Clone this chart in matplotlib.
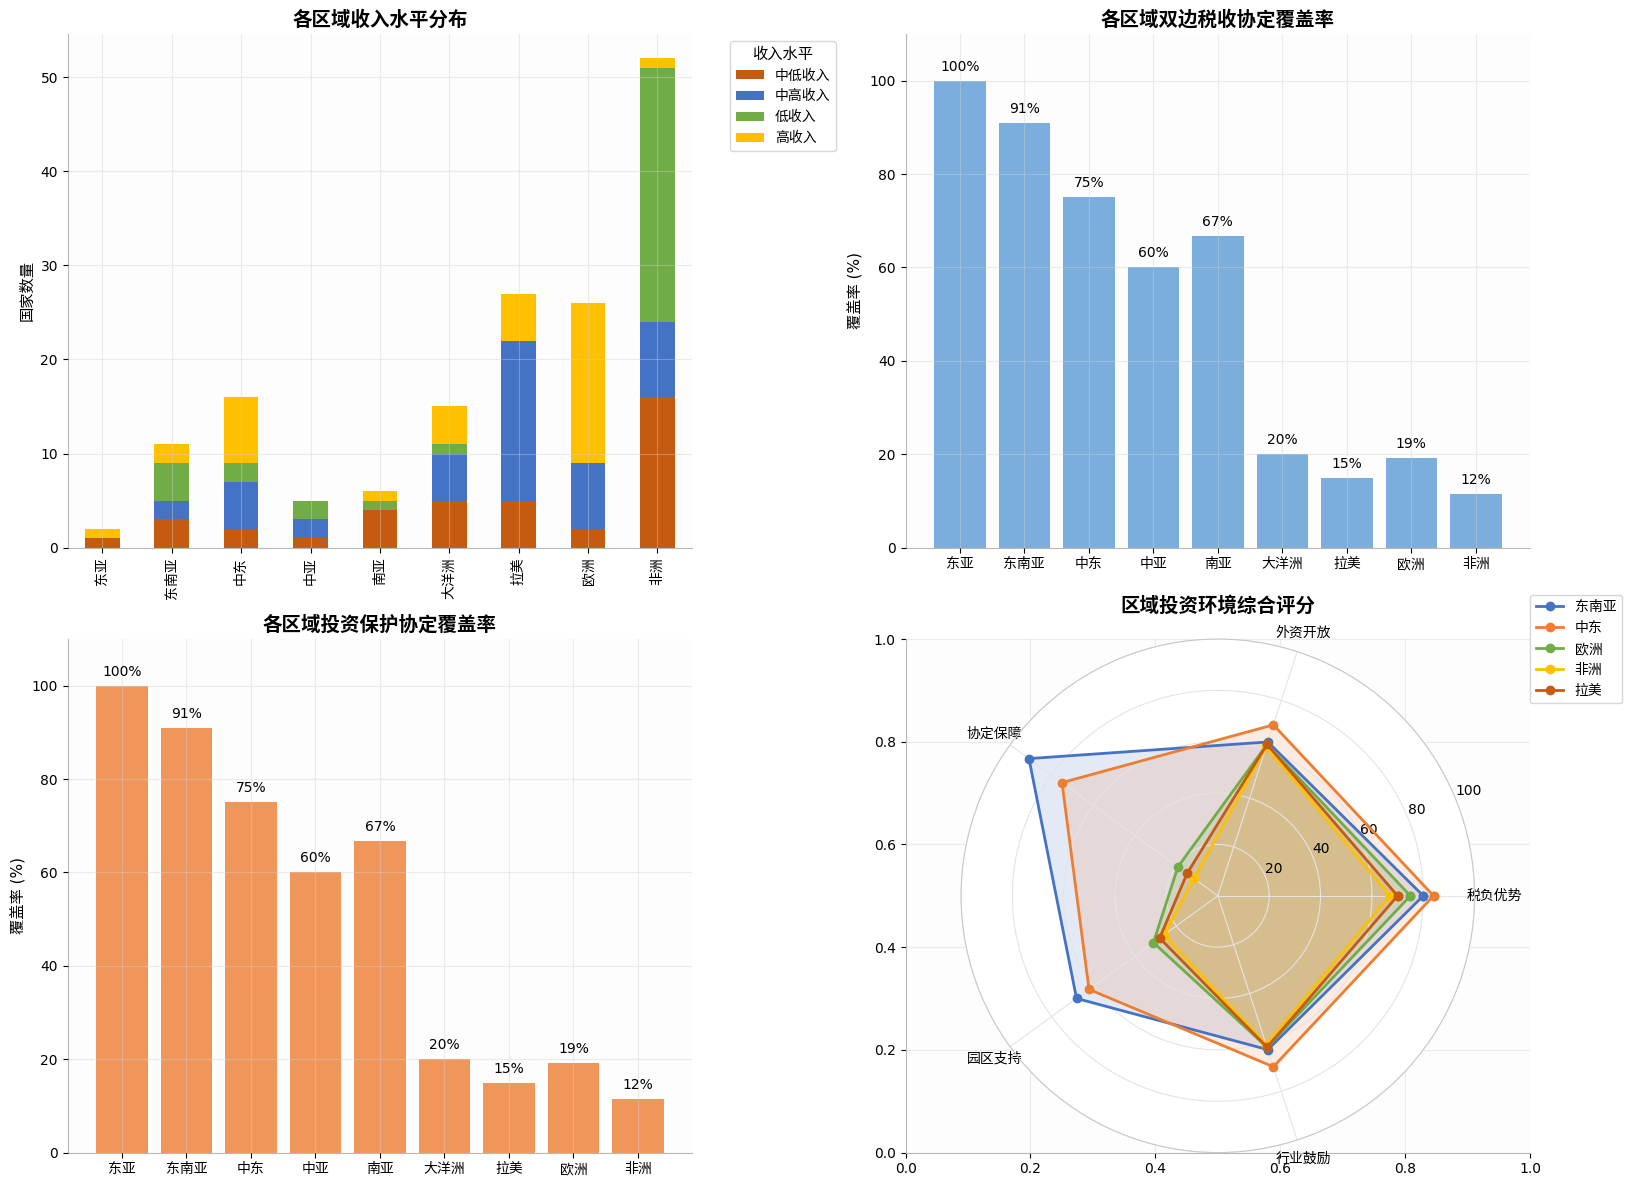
import numpy as np
import matplotlib
matplotlib.use("Agg")
import matplotlib.pyplot as plt

plt.rcParams['font.family'] = ['DejaVu Sans', 'Noto Sans CJK SC']
plt.rcParams['axes.unicode_minus'] = False

regions = ['东亚', '东南亚', '中东', '中亚', '南亚', '大洋洲', '拉美', '欧洲', '非洲']
income_levels = ['中低收入', '中高收入', '低收入', '高收入']
lower_middle = [1, 3, 2, 1, 4, 5, 5, 2, 16]
upper_middle = [0, 2, 5, 2, 0, 5, 17, 7, 8]
low_income = [0, 4, 2, 2, 1, 1, 0, 0, 27]
high_income = [1, 2, 7, 0, 1, 4, 5, 17, 1]

tax_coverage = [100.0, 90.9, 75.0, 60.0, 66.7, 20.0, 14.8, 19.2, 11.5]
bit_coverage = [100.0, 90.9, 75.0, 60.0, 66.7, 20.0, 14.8, 19.2, 11.5]

radar_dims = ['税负优势', '外资开放', '协定保障', '园区支持', '行业鼓励']
radar_regions = ['东南亚', '中东', '欧洲', '非洲', '拉美']
radar_sea = [80, 63, 90.9, 68, 63]
radar_me = [84, 70, 75.0, 62, 70]
radar_eu = [75, 62, 19.2, 31, 62]
radar_af = [67, 61, 11.5, 26, 61]
radar_la = [70, 62, 14.8, 28, 62]

income_colors = ['#C55A11', '#4472C4', '#70AD47', '#FFC000']
radar_colors = ['#4472C4', '#ED7D31', '#70AD47', '#FFC000', '#C55A11']

TITLE_FONT = ['Noto Sans CJK SC', 'DejaVu Sans']

W, H = 1632, 1187
fig, axes = plt.subplots(2, 2, figsize=(W / 100, H / 100), dpi=100)
fig.subplots_adjust(left=67.7 / W, right=1530 / W, top=1 - 34 / H, bottom=1 - 1152.6 / H,
                    wspace=0.342, hspace=0.178)

GRID = dict(color='#d0d0d0', alpha=0.4, linewidth=0.8)


def style(ax):
    ax.set_facecolor('#fdfdfd')
    for s in ['top', 'right']:
        ax.spines[s].set_visible(False)
    for s in ['left', 'bottom']:
        ax.spines[s].set_color('#b8b8b8')
    ax.grid(True, **GRID)
    ax.set_axisbelow(False)
    ax.tick_params(labelsize=10)


# Top-left: stacked bars
ax = axes[0, 0]
style(ax)
x = np.arange(len(regions))
bottom = np.zeros(len(regions))
for name, vals, c in zip(income_levels, [lower_middle, upper_middle, low_income, high_income], income_colors):
    ax.bar(x, vals, 0.5, bottom=bottom, color=c, label=name)
    bottom += np.array(vals)
ax.set_xlim(-0.5, len(regions) - 0.5)
ax.set_xticks(x)
ax.set_xticklabels(regions, rotation=90)
ax.set_ylabel('国家数量', fontsize=11)
ax.set_title('各区域收入水平分布', fontsize=14, fontweight='bold', family=TITLE_FONT)
leg = ax.legend(title='收入水平', loc='upper left', bbox_to_anchor=(1.05, 1), fontsize=10,
                title_fontsize=11)

# Top-right: tax treaty coverage
ax = axes[0, 1]
style(ax)
ax.bar(x, tax_coverage, 0.8, color='#5B9BD5', alpha=0.8)
for xi, v in zip(x, tax_coverage):
    ax.text(xi, v + 1.5, f'{v:.0f}%', ha='center', va='bottom', fontsize=10)
ax.set_xticks(x)
ax.set_xticklabels(regions)
ax.set_ylim(0, 110)
ax.set_ylabel('覆盖率 (%)', fontsize=11)
ax.set_title('各区域双边税收协定覆盖率', fontsize=14, fontweight='bold', family=TITLE_FONT)

# Bottom-left: BIT coverage
ax = axes[1, 0]
style(ax)
ax.bar(x, bit_coverage, 0.8, color='#ED7D31', alpha=0.8)
for xi, v in zip(x, bit_coverage):
    ax.text(xi, v + 1.5, f'{v:.0f}%', ha='center', va='bottom', fontsize=10)
ax.set_xticks(x)
ax.set_xticklabels(regions)
ax.set_ylim(0, 110)
ax.set_ylabel('覆盖率 (%)', fontsize=11)
ax.set_title('各区域投资保护协定覆盖率', fontsize=14, fontweight='bold', family=TITLE_FONT)

# Bottom-right: radar
axc = axes[1, 1]
style(axc)
axc.set_axisbelow(True)
pax = fig.add_subplot(2, 2, 4, projection='polar')
pax.set_facecolor('white')
angles = np.linspace(0, 2 * np.pi, len(radar_dims), endpoint=False)
angles_c = np.concatenate([angles, angles[:1]])
for name, vals, c in zip(radar_regions, [radar_sea, radar_me, radar_eu, radar_af, radar_la], radar_colors):
    v = np.concatenate([vals, vals[:1]])
    pax.plot(angles_c, v, 'o-', linewidth=2, color=c, label=name, markersize=6)
    pax.fill(angles_c, v, alpha=0.15, color=c)
pax.set_xticks(angles)
pax.set_xticklabels(radar_dims, fontsize=10)
pax.set_ylim(0, 100)
pax.set_yticks([20, 40, 60, 80, 100])
pax.set_yticklabels(['20', '40', '60', '80', '100'], fontsize=10)
pax.grid(True, color='#e4e4e4', linewidth=0.8)
pax.spines['polar'].set_color('#c8c8c8')
pax.set_title('区域投资环境综合评分', fontsize=14, fontweight='bold', pad=20, family=TITLE_FONT)
pax.legend(loc='upper right', bbox_to_anchor=(1.3, 1.1), fontsize=10)

fig.savefig('out.png', dpi=100)
